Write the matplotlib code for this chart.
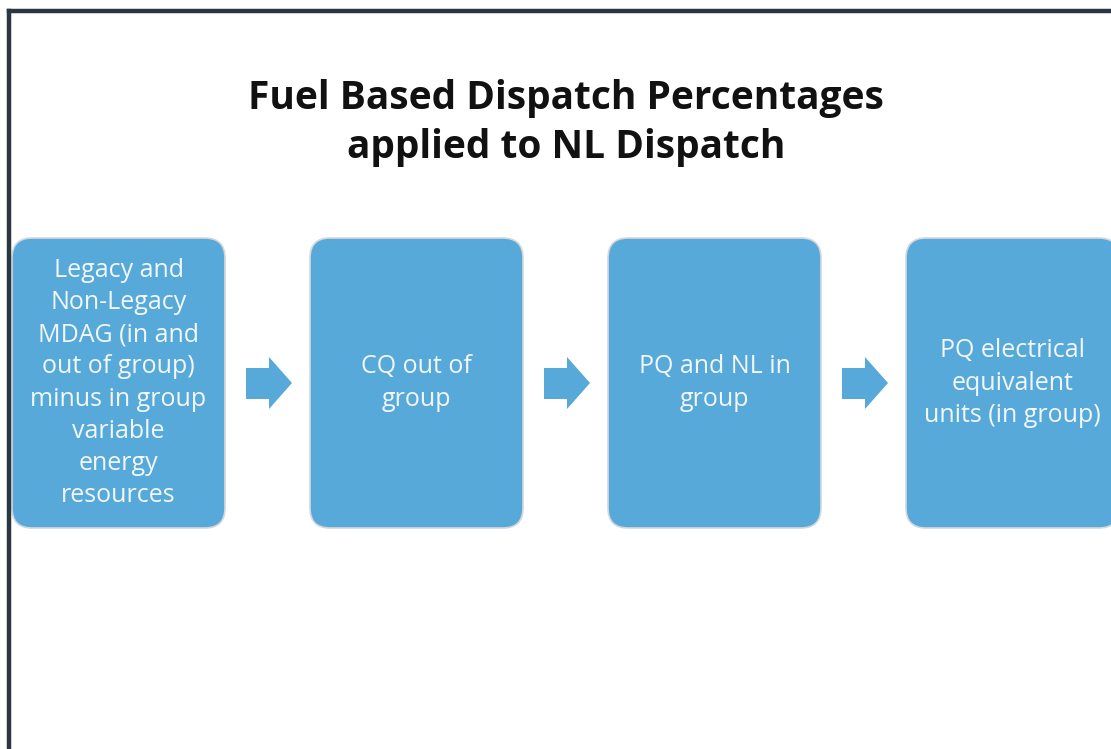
import matplotlib.pyplot as plt
from matplotlib.patches import FancyBboxPatch, Polygon

# diagram content
title_lines = ["Fuel Based Dispatch Percentages", "applied to NL Dispatch"]
steps = [
    "Legacy and\nNon-Legacy\nMDAG (in and\nout of group)\nminus in group\nvariable\nenergy\nresources",
    "CQ out of\ngroup",
    "PQ and NL in\ngroup",
    "PQ electrical\nequivalent\nunits (in group)",
]

W, H = 1111, 749
box_color = "#57a9d9"
border_color = "#2b3640"

fig = plt.figure(figsize=(W / 100, H / 100), dpi=100)
ax = fig.add_axes([0, 0, 1, 1])
ax.set_xlim(0, W)
ax.set_ylim(H, 0)
ax.axis("off")

# slide frame (left and top edges only visible)
ax.plot([9, 9], [H, 11], color=border_color, lw=3.2, solid_capstyle="projecting")
ax.plot([9, W], [11, 11], color=border_color, lw=3.2, solid_capstyle="projecting")

ax.text(566, 123, "\n".join(title_lines), ha="center", va="center",
        fontsize=28, fontweight="bold", family="Open Sans", color="#111111",
        linespacing=1.33)

box_w, box_h, pitch = 213, 290, 298
top = 238
r = 20
for i, label in enumerate(steps):
    x0 = 12 + i * pitch
    box = FancyBboxPatch((x0 + r, top + r), box_w - 2 * r, box_h - 2 * r,
                         boxstyle=f"round,pad={r}", facecolor=box_color,
                         edgecolor="#d4d8dc", lw=1.2)
    ax.add_patch(box)
    ax.text(x0 + box_w / 2, top + box_h / 2, label, ha="center", va="center",
            fontsize=18, family="Open Sans", color="#f2f7fb", linespacing=1.37)

    if i < len(steps) - 1:
        ax0 = x0 + box_w + 21
        cy = 383
        arrow = Polygon([
            (ax0, cy - 15), (ax0 + 23, cy - 15), (ax0 + 23, cy - 26),
            (ax0 + 46, cy), (ax0 + 23, cy + 26), (ax0 + 23, cy + 16),
            (ax0, cy + 16)], closed=True, facecolor=box_color, edgecolor="none")
        ax.add_patch(arrow)

fig.savefig("out.png", dpi=100, facecolor="white")
